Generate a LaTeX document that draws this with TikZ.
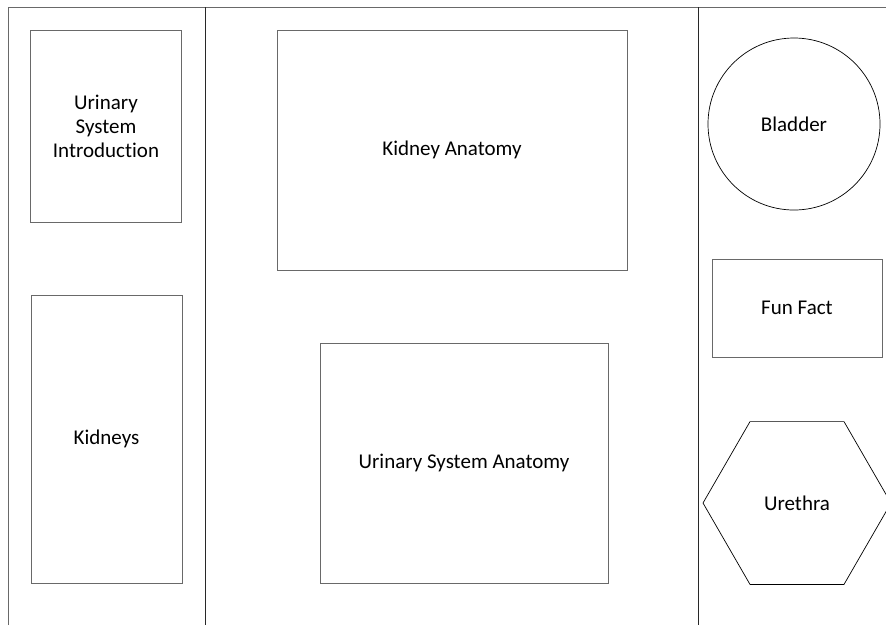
\documentclass[tikz,border=0pt]{standalone}
\usepackage{fontspec}
\setmainfont{Carlito}[Ligatures=NoCommon]
\usepackage{tikz}
\usetikzlibrary{shapes.geometric}
\definecolor{Brdr}{RGB}{105,105,105}
\definecolor{Rule}{RGB}{40,40,40}
\tikzset{
    panel/.style={draw=Brdr, line width=0.9pt, inner sep=0pt, align=center,
                  font=\fontsize{21}{24}\selectfont},
    divider/.style={draw=Rule, line width=0.9pt},
}

\begin{document}
\begin{tikzpicture}[x=1pt, y=-1pt]
    \useasboundingbox (0,0) rectangle (886,625);
    % frame and columns
    \coordinate (frameBL) at (8,625);
    \coordinate (frameTL) at (8,7);
    \coordinate (frameTR) at (886,7);
    \coordinate (colA) at (205,7);
    \coordinate (colAb) at (205,625);
    \coordinate (colB) at (698,7);
    \coordinate (colBb) at (698,625);
    \draw [draw=Brdr, line width=0.9pt] (frameBL) -- (frameTL) -- (frameTR);
    \draw [divider] (colA) -- (colAb);
    \draw [divider] (colB) -- (colBb);
    % left column
    \node (intro) [panel, minimum width=151, minimum height=192] at (106,126)
            {Urinary\\System\\Introduction};
    \node (kidneys) [panel, minimum width=151, minimum height=288] at (106.5,439)
            {Kidneys};
    % middle column
    \node (kidAnat) [panel, minimum width=350, minimum height=240] at (452,150)
            {Kidney Anatomy};
    \node (uriAnat) [panel, minimum width=288, minimum height=240] at (464,463)
            {Urinary System Anatomy};
    % right column
    \node (bladder) [panel, draw=black, line width=0.7pt, circle, minimum size=172] at (794,124)
            {Bladder};
    \node (funFact) [panel, minimum width=170, minimum height=98] at (797,308)
            {Fun Fact};
    \node (urethra) [panel, draw=black, line width=0.7pt, regular polygon, regular polygon sides=6,
                    minimum size=188] at (797,503)
            {Urethra};
\end{tikzpicture}
\end{document}
